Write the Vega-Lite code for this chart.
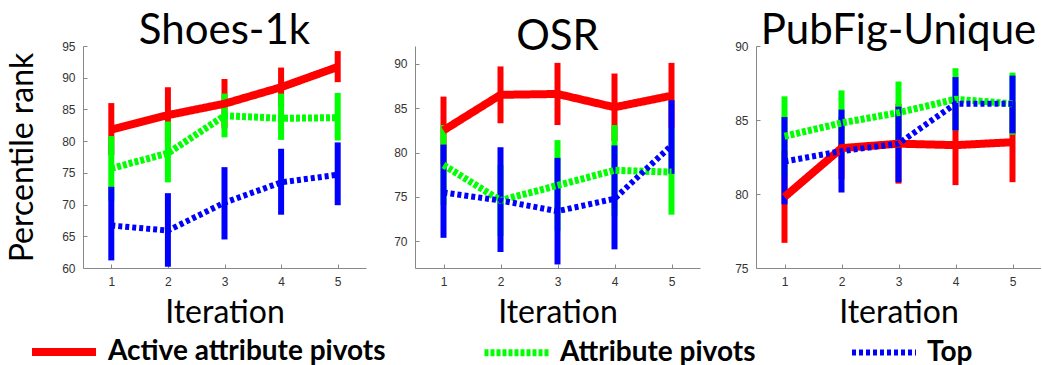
{
  "$schema": "https://vega.github.io/schema/vega-lite/v6.json",
  "background": "white",
  "padding": {"left": 6, "top": 10, "right": 0, "bottom": 0},
  "bounds": "full",
  "spacing": 34,
  "datasets": {
    "d": [
      {"panel": "Shoes-1k", "series": "Active attribute pivots", "iter": 1, "y": 81.8, "lo": 77.8, "hi": 86.0},
      {"panel": "Shoes-1k", "series": "Active attribute pivots", "iter": 2, "y": 84.1, "lo": 79.7, "hi": 88.5},
      {"panel": "Shoes-1k", "series": "Active attribute pivots", "iter": 3, "y": 85.9, "lo": 82.0, "hi": 89.8},
      {"panel": "Shoes-1k", "series": "Active attribute pivots", "iter": 4, "y": 88.5, "lo": 85.4, "hi": 91.6},
      {"panel": "Shoes-1k", "series": "Active attribute pivots", "iter": 5, "y": 91.7, "lo": 89.3, "hi": 94.2},
      {"panel": "Shoes-1k", "series": "Attribute pivots", "iter": 1, "y": 75.7, "lo": 70.6, "hi": 80.8},
      {"panel": "Shoes-1k", "series": "Attribute pivots", "iter": 2, "y": 78.1, "lo": 73.5, "hi": 83.1},
      {"panel": "Shoes-1k", "series": "Attribute pivots", "iter": 3, "y": 84.0, "lo": 80.6, "hi": 87.5},
      {"panel": "Shoes-1k", "series": "Attribute pivots", "iter": 4, "y": 83.6, "lo": 80.2, "hi": 87.5},
      {"panel": "Shoes-1k", "series": "Attribute pivots", "iter": 5, "y": 83.7, "lo": 80.1, "hi": 87.6},
      {"panel": "Shoes-1k", "series": "Top", "iter": 1, "y": 66.7, "lo": 61.2, "hi": 72.8},
      {"panel": "Shoes-1k", "series": "Top", "iter": 2, "y": 65.9, "lo": 60.2, "hi": 71.8},
      {"panel": "Shoes-1k", "series": "Top", "iter": 3, "y": 70.3, "lo": 64.5, "hi": 75.9},
      {"panel": "Shoes-1k", "series": "Top", "iter": 4, "y": 73.5, "lo": 68.4, "hi": 78.8},
      {"panel": "Shoes-1k", "series": "Top", "iter": 5, "y": 74.7, "lo": 69.9, "hi": 79.8},
      {"panel": "OSR", "series": "Active attribute pivots", "iter": 1, "y": 82.5, "lo": 78.7, "hi": 86.3},
      {"panel": "OSR", "series": "Active attribute pivots", "iter": 2, "y": 86.5, "lo": 83.3, "hi": 89.7},
      {"panel": "OSR", "series": "Active attribute pivots", "iter": 3, "y": 86.6, "lo": 83.1, "hi": 90.1},
      {"panel": "OSR", "series": "Active attribute pivots", "iter": 4, "y": 85.1, "lo": 81.3, "hi": 88.9},
      {"panel": "OSR", "series": "Active attribute pivots", "iter": 5, "y": 86.4, "lo": 82.7, "hi": 90.1},
      {"panel": "OSR", "series": "Attribute pivots", "iter": 1, "y": 78.6, "lo": 74.1, "hi": 83.1},
      {"panel": "OSR", "series": "Attribute pivots", "iter": 2, "y": 74.6, "lo": 70.6, "hi": 78.6},
      {"panel": "OSR", "series": "Attribute pivots", "iter": 3, "y": 76.3, "lo": 71.2, "hi": 81.4},
      {"panel": "OSR", "series": "Attribute pivots", "iter": 4, "y": 78.0, "lo": 72.9, "hi": 83.1},
      {"panel": "OSR", "series": "Attribute pivots", "iter": 5, "y": 77.8, "lo": 73.0, "hi": 82.6},
      {"panel": "OSR", "series": "Top", "iter": 1, "y": 75.5, "lo": 70.4, "hi": 80.9},
      {"panel": "OSR", "series": "Top", "iter": 2, "y": 74.6, "lo": 68.8, "hi": 80.6},
      {"panel": "OSR", "series": "Top", "iter": 3, "y": 73.4, "lo": 67.4, "hi": 79.4},
      {"panel": "OSR", "series": "Top", "iter": 4, "y": 74.8, "lo": 69.1, "hi": 80.8},
      {"panel": "OSR", "series": "Top", "iter": 5, "y": 80.8, "lo": 77.6, "hi": 85.9},
      {"panel": "PubFig-Unique", "series": "Active attribute pivots", "iter": 1, "y": 79.8, "lo": 76.7, "hi": 82.9},
      {"panel": "PubFig-Unique", "series": "Active attribute pivots", "iter": 2, "y": 83.1, "lo": 81.0, "hi": 85.2},
      {"panel": "PubFig-Unique", "series": "Active attribute pivots", "iter": 3, "y": 83.4, "lo": 80.7, "hi": 86.1},
      {"panel": "PubFig-Unique", "series": "Active attribute pivots", "iter": 4, "y": 83.3, "lo": 80.6, "hi": 86.0},
      {"panel": "PubFig-Unique", "series": "Active attribute pivots", "iter": 5, "y": 83.5, "lo": 80.8, "hi": 86.2},
      {"panel": "PubFig-Unique", "series": "Attribute pivots", "iter": 1, "y": 83.9, "lo": 81.2, "hi": 86.6},
      {"panel": "PubFig-Unique", "series": "Attribute pivots", "iter": 2, "y": 84.8, "lo": 82.6, "hi": 87.0},
      {"panel": "PubFig-Unique", "series": "Attribute pivots", "iter": 3, "y": 85.5, "lo": 83.4, "hi": 87.6},
      {"panel": "PubFig-Unique", "series": "Attribute pivots", "iter": 4, "y": 86.4, "lo": 84.3, "hi": 88.5},
      {"panel": "PubFig-Unique", "series": "Attribute pivots", "iter": 5, "y": 86.1, "lo": 84.0, "hi": 88.2},
      {"panel": "PubFig-Unique", "series": "Top", "iter": 1, "y": 82.2, "lo": 79.3, "hi": 85.2},
      {"panel": "PubFig-Unique", "series": "Top", "iter": 2, "y": 82.9, "lo": 80.1, "hi": 85.7},
      {"panel": "PubFig-Unique", "series": "Top", "iter": 3, "y": 83.4, "lo": 80.8, "hi": 85.9},
      {"panel": "PubFig-Unique", "series": "Top", "iter": 4, "y": 86.1, "lo": 84.3, "hi": 87.9},
      {"panel": "PubFig-Unique", "series": "Top", "iter": 5, "y": 86.1, "lo": 84.1, "hi": 88.0}
    ]
  },
  "data": {"name": "d"},
  "config": {
    "view": {"stroke": null},
    "font": "Lato",
    "title": {"font": "Lato", "fontSize": 42, "fontWeight": "normal", "color": "black", "anchor": "middle", "offset": -13},
    "axis": {
      "grid": false,
      "domainColor": "#888888",
      "tickColor": "#888888",
      "tickSize": -4,
      "labelFont": "Liberation Sans",
      "labelFontSize": 12,
      "labelColor": "#333333",
      "labelPadding": 12,
      "titleFont": "Lato",
      "titleFontSize": 32,
      "titleFontWeight": "normal",
      "titleColor": "black"
    },
    "legend": {"orient": "none", "legendX": -55, "legendY": 270, "direction": "horizontal", "title": null, "symbolType": "stroke", "symbolSize": 4096, "symbolStrokeWidth": 11, "columnPadding": 84, "labelOffset": 8, "labelFont": "Lato", "labelFontWeight": "bold", "labelFontSize": 28, "labelColor": "black", "labelLimit": 0}
  },
  "hconcat": [
    {
      "bounds": "flush",
      "spacing": 49,
      "hconcat": [
        {
          "width": 283,
          "height": 222,
          "title": "Shoes-1k",
          "transform": [{"filter": "datum.panel === 'Shoes-1k'"}],
          "encoding": {
            "x": {"field": "iter", "type": "quantitative", "scale": {"domain": [0.5, 5.5], "nice": false}, "axis": {"values": [1, 2, 3, 4, 5], "format": "d", "title": "Iteration", "titlePadding": 10}},
            "color": {"field": "series", "type": "nominal", "scale": {"domain": ["Active attribute pivots", "Attribute pivots", "Top"], "range": ["#ff0000", "#00ff00", "#0000ff"]}, "legend": {"orient": "none"}}
          },
          "layer": [
            {
              "mark": {"type": "rule", "strokeWidth": 6, "clip": true},
              "encoding": {
                "y": {"field": "lo", "type": "quantitative", "scale": {"domain": [60, 95], "nice": false, "zero": false}, "axis": {"values": [60, 65, 70, 75, 80, 85, 90, 95], "title": "Percentile rank", "titlePadding": 22}},
                "y2": {"field": "hi"}
              }
            },
            {
              "mark": {"type": "line"},
              "encoding": {
                "y": {"field": "y", "type": "quantitative", "scale": {"domain": [60, 95], "nice": false, "zero": false}, "axis": {"values": [60, 65, 70, 75, 80, 85, 90, 95], "title": "Percentile rank", "titlePadding": 22}},
                "strokeDash": {"field": "series", "type": "nominal", "scale": {"domain": ["Active attribute pivots", "Attribute pivots", "Top"], "range": [[1, 0], [4, 2], [4, 3]]}, "legend": {"orient": "none"}},
                "strokeWidth": {"field": "series", "type": "ordinal", "scale": {"domain": ["Active attribute pivots", "Attribute pivots", "Top"], "range": [8, 6, 5]}, "legend": null}
              }
            }
          ]
        },
        {
          "width": 285,
          "height": 222,
          "title": "OSR",
          "transform": [{"filter": "datum.panel === 'OSR'"}],
          "encoding": {
            "x": {"field": "iter", "type": "quantitative", "scale": {"domain": [0.5, 5.5], "nice": false}, "axis": {"values": [1, 2, 3, 4, 5], "format": "d", "title": "Iteration", "titlePadding": 10}},
            "color": {"field": "series", "type": "nominal", "scale": {"domain": ["Active attribute pivots", "Attribute pivots", "Top"], "range": ["#ff0000", "#00ff00", "#0000ff"]}, "legend": {"orient": "none"}}
          },
          "layer": [
            {
              "mark": {"type": "rule", "strokeWidth": 6, "clip": true},
              "encoding": {
                "y": {"field": "lo", "type": "quantitative", "scale": {"domain": [67, 92], "nice": false, "zero": false}, "axis": {"values": [70, 75, 80, 85, 90], "title": null}},
                "y2": {"field": "hi"}
              }
            },
            {
              "mark": {"type": "line"},
              "encoding": {
                "y": {"field": "y", "type": "quantitative", "scale": {"domain": [67, 92], "nice": false, "zero": false}, "axis": {"values": [70, 75, 80, 85, 90], "title": null}},
                "strokeDash": {"field": "series", "type": "nominal", "scale": {"domain": ["Active attribute pivots", "Attribute pivots", "Top"], "range": [[1, 0], [4, 2], [4, 3]]}, "legend": {"orient": "none"}},
                "strokeWidth": {"field": "series", "type": "ordinal", "scale": {"domain": ["Active attribute pivots", "Attribute pivots", "Top"], "range": [8, 6, 5]}, "legend": null}
              }
            }
          ]
        }
      ]
    },
    {
      "width": 285,
      "height": 222,
      "title": "PubFig-Unique",
      "transform": [{"filter": "datum.panel === 'PubFig-Unique'"}],
      "encoding": {
        "x": {"field": "iter", "type": "quantitative", "scale": {"domain": [0.5, 5.5], "nice": false}, "axis": {"values": [1, 2, 3, 4, 5], "format": "d", "title": "Iteration", "titlePadding": 10}},
        "color": {"field": "series", "type": "nominal", "scale": {"domain": ["Active attribute pivots", "Attribute pivots", "Top"], "range": ["#ff0000", "#00ff00", "#0000ff"]}, "legend": {"orient": "none"}}
      },
      "layer": [
        {
          "mark": {"type": "rule", "strokeWidth": 6, "clip": true},
          "encoding": {
            "y": {"field": "lo", "type": "quantitative", "scale": {"domain": [75, 90], "nice": false, "zero": false}, "axis": {"values": [75, 80, 85, 90], "title": null}},
            "y2": {"field": "hi"}
          }
        },
        {
          "mark": {"type": "line"},
          "encoding": {
            "y": {"field": "y", "type": "quantitative", "scale": {"domain": [75, 90], "nice": false, "zero": false}, "axis": {"values": [75, 80, 85, 90], "title": null}},
            "strokeDash": {"field": "series", "type": "nominal", "scale": {"domain": ["Active attribute pivots", "Attribute pivots", "Top"], "range": [[1, 0], [4, 2], [4, 3]]}, "legend": {"orient": "none"}},
            "strokeWidth": {"field": "series", "type": "ordinal", "scale": {"domain": ["Active attribute pivots", "Attribute pivots", "Top"], "range": [8, 6, 5]}, "legend": null}
          }
        }
      ]
    }
  ]
}
